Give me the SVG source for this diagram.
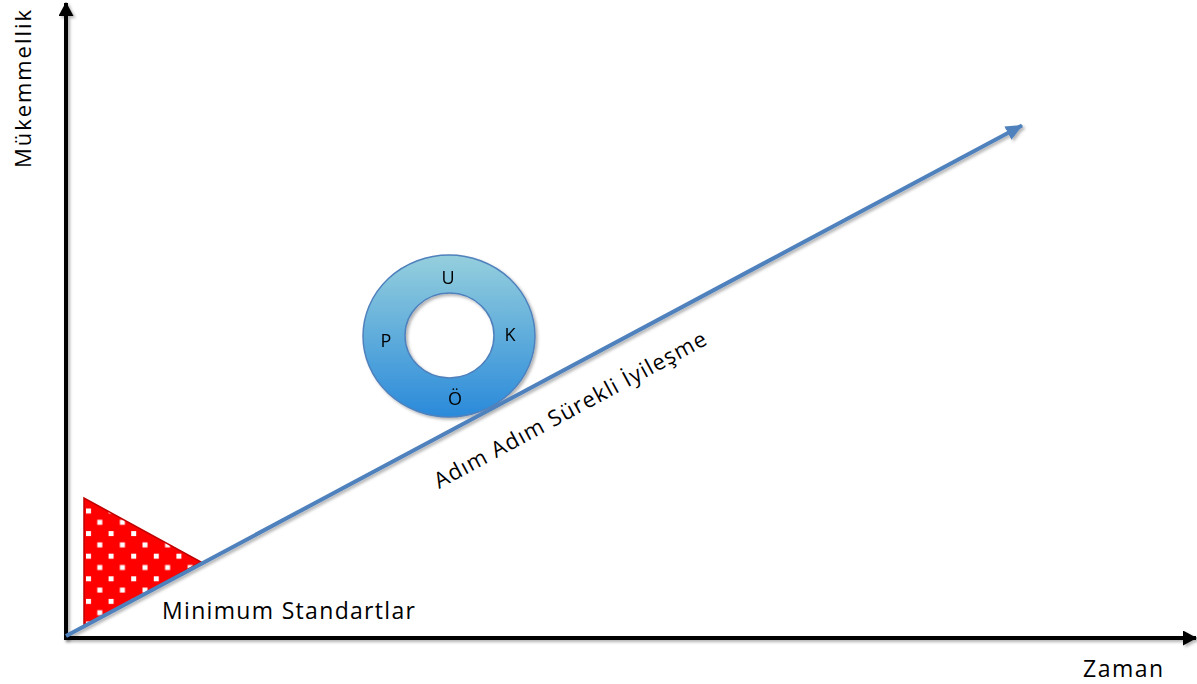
<svg xmlns="http://www.w3.org/2000/svg" width="1197" height="684" viewBox="0 0 1197 684">
<style>
.lbl{font-family:"Open Sans","Liberation Sans",sans-serif;fill:#000}
.axis{stroke:#000;stroke-width:4;fill:none}
.ring-t{font-family:"Open Sans","Liberation Sans",sans-serif;font-size:18px;fill:#000;text-anchor:middle}
</style>
<defs>
<marker id="ah-black" markerUnits="userSpaceOnUse" markerWidth="14" markerHeight="15" refX="13" refY="7.5" orient="auto" viewBox="0 0 14 15">
<path d="M0,0 L14,7.5 L0,15 Z" fill="#000"/>
</marker>
<marker id="ah-blue" markerUnits="userSpaceOnUse" markerWidth="17" markerHeight="15" refX="16" refY="7.5" orient="auto" viewBox="0 0 17 15">
<path d="M0,0 L17,7.5 L0,15 Z" fill="#4f81bd"/>
</marker>
<linearGradient id="ringGrad" x1="0" y1="0" x2="0" y2="1">
<stop offset="0" stop-color="#95cfdd"/>
<stop offset="1" stop-color="#2a8ada"/>
</linearGradient>
<pattern id="dots" patternUnits="userSpaceOnUse" x="86" y="508.5" width="22.6" height="22.6">
<rect x="0" y="0" width="22.6" height="22.6" fill="#ff0000"/>
<rect x="0" y="0" width="5" height="5" fill="#fff"/>
<rect x="11.3" y="11.3" width="5" height="5" fill="#fff"/>
</pattern>
<filter id="sh" filterUnits="userSpaceOnUse" x="0" y="0" width="1197" height="684">
<feDropShadow dx="2" dy="2" stdDeviation="1.5" flood-color="#000" flood-opacity="0.3"/>
</filter>
</defs>
<rect width="1197" height="684" fill="#fff"/>
<g id="triangle">
<polygon points="84,498 84,627 201,562" fill="url(#dots)" stroke="#c00000" stroke-width="1.5"/>
</g>
<g id="ring" filter="url(#sh)">
<path d="M363,336 a86,81 0 1,0 172,0 a86,81 0 1,0 -172,0 Z M405,335.5 a44.5,42.5 0 1,0 89,0 a44.5,42.5 0 1,0 -89,0 Z" fill="url(#ringGrad)" fill-rule="evenodd" stroke="#4f81bd" stroke-width="1.5"/>
<text class="ring-t" x="448" y="284">U</text>
<text class="ring-t" x="510" y="341">K</text>
<text class="ring-t" x="386" y="347">P</text>
<text class="ring-t" x="455" y="405">Ö</text>
</g>
<g id="connectors">
<line class="axis" x1="66" y1="640" x2="66" y2="3" marker-end="url(#ah-black)" filter="url(#sh)"/>
<line class="axis" x1="64" y1="638" x2="1196" y2="638" marker-end="url(#ah-black)" filter="url(#sh)"/>
<line x1="66" y1="636" x2="1022" y2="125.5" stroke="#4f81bd" stroke-width="4" marker-end="url(#ah-blue)" filter="url(#sh)"/>
</g>
<g id="labels">
<text class="lbl" x="0" y="0" font-size="22" textLength="158" transform="translate(31,168) rotate(-90)">Mükemmellik</text>
<text class="lbl" x="1083" y="677" font-size="23" textLength="80">Zaman</text>
<text class="lbl" x="162" y="619" font-size="23" textLength="253">Minimum Standartlar</text>
<text class="lbl" x="0" y="0" font-size="22" textLength="306" transform="translate(439,489) rotate(-28.3)">Adım Adım Sürekli İyileşme</text>
</g>
</svg>
